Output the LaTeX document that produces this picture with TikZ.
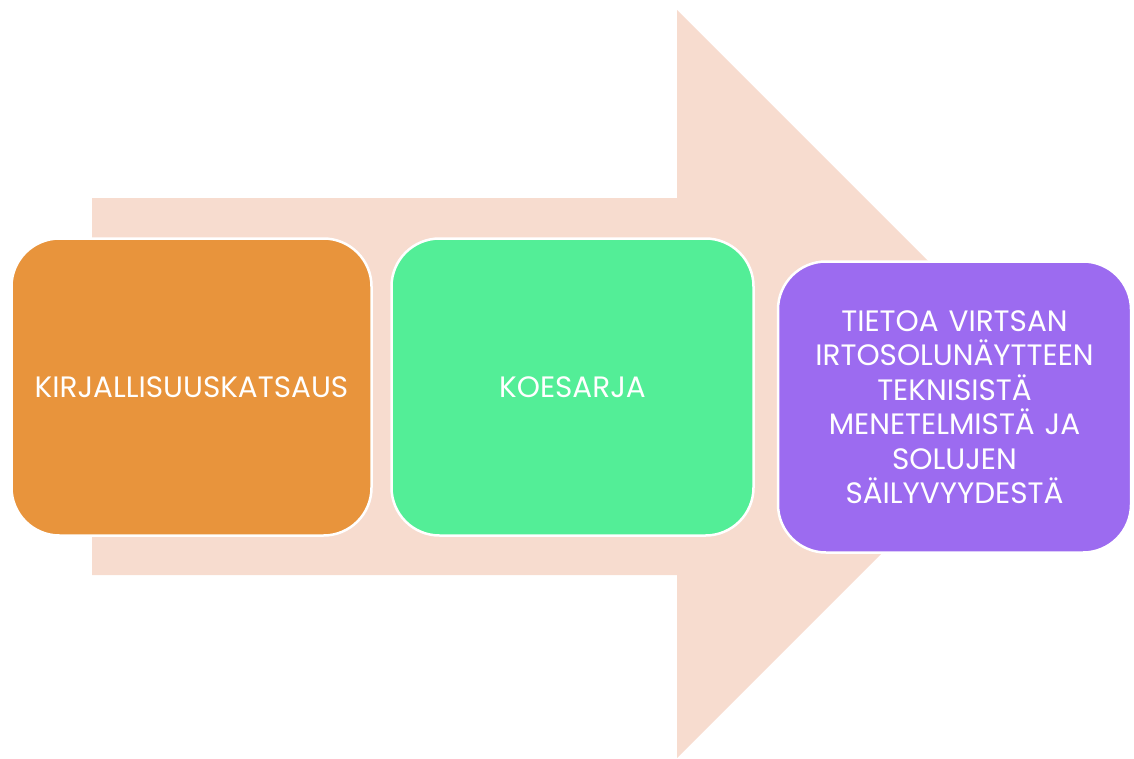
\documentclass[tikz,border=0pt]{standalone}
\usepackage{fontspec}
\setmainfont{Poppins}
\definecolor{arrowfill}{HTML}{F7DCCF}
\definecolor{orangebox}{HTML}{E8943C}
\definecolor{greenbox}{HTML}{53EE97}
\definecolor{purplebox}{HTML}{9C6BF0}
\tikzset{
  stepbox/.style={draw=white, line width=2.5pt, rounded corners=48pt, text=white,
    align=center, inner sep=0pt, font=\fontsize{29.5}{34.5}\selectfont},
}
\begin{document}
\begin{tikzpicture}[x=1pt,y=-1pt]
\useasboundingbox (0,0) rectangle (1134,758);
\fill[arrowfill] (92,198) -- (677,198) -- (677,10) -- (1051,384) -- (677,758) -- (677,575) -- (92,575) -- cycle;
\node[stepbox, fill=orangebox, minimum width=360pt, minimum height=297pt] (lit) at (191.5,387) {KIRJALLISUUSKATSAUS};
\node[stepbox, fill=greenbox, minimum width=362pt, minimum height=297pt] (koe) at (572.5,387) {KOESARJA};
\node[stepbox, fill=purplebox, minimum width=353pt, minimum height=291pt, text width=330pt] (tieto) at (954.5,407) {TIETOA VIRTSAN\\IRTOSOLUNÄYTTEEN\\TEKNISISTÄ\\MENETELMISTÄ JA\\SOLUJEN\\SÄILYVYYDESTÄ};
\end{tikzpicture}
\end{document}
